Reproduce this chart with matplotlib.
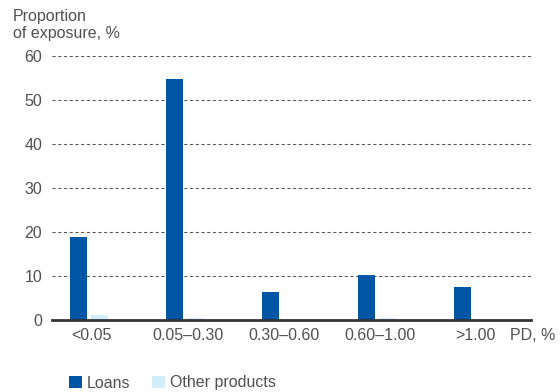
import matplotlib.pyplot as plt
import numpy as np

plt.rcParams['font.family'] = ['Liberation Sans', 'DejaVu Sans']

categories = ['<0.05', '0.05\u20130.30', '0.30\u20130.60', '0.60\u20131.00', '>1.00']
loans = [18.8, 54.8, 6.4, 10.2, 7.5]
other_products = [1.1, 0.4, 0.0, 0.4, 0.0]
yticks = [0, 10, 20, 30, 40, 50, 60]

LOANS_COLOR = '#0055a5'
OTHER_COLOR = '#d2eefa'
TEXT_COLOR = '#505050'
FS = 11.5

W, H = 560, 392
fig = plt.figure(figsize=(W / 100, H / 100), dpi=100)
# plot area in pixels: x 52..531, y 56..320
ax = fig.add_axes([52 / W, 1 - 320 / H, 479 / W, 264 / H])

x = np.arange(len(categories))
w = 0.174
ax.bar(x - 0.109, loans, width=w, color=LOANS_COLOR, label='Loans', zorder=3)
ax.bar(x + 0.109, other_products, width=w, color=OTHER_COLOR,
       label='Other products', zorder=3)

ax.set_xlim(-0.383, 4.606)
ax.set_ylim(0, 60)
ax.set_yticks(yticks)
ax.yaxis.grid(True, linestyle=(0, (3, 2.5)), color='#555555', linewidth=0.75, zorder=0)
ax.axhline(0, color='#333333', linewidth=2.0, zorder=4, clip_on=False)

for s in ax.spines.values():
    s.set_visible(False)
ax.tick_params(axis='both', length=0, labelsize=FS, colors=TEXT_COLOR)
ax.tick_params(axis='y', pad=7)
ax.tick_params(axis='x', pad=6)
ax.set_xticks(x + 0.03)
ax.set_xticklabels(categories)

fig.text(13 / W, 1 - 9 / H, 'Proportion\nof exposure, %', ha='left', va='top',
         fontsize=FS, color=TEXT_COLOR, linespacing=1.15)
fig.text(555 / W, 1 - 340 / H, 'PD, %', ha='right', va='baseline',
         fontsize=FS, color=TEXT_COLOR)

fig.legend(loc='center left', bbox_to_anchor=(69 / W, 1 - 383 / H), ncol=2,
           frameon=False, borderpad=0, borderaxespad=0,
           fontsize=FS, handlelength=0.8, handleheight=0.8, handletextpad=0.3,
           columnspacing=1.4, labelcolor=TEXT_COLOR)

fig.savefig('out.png', dpi=100)
